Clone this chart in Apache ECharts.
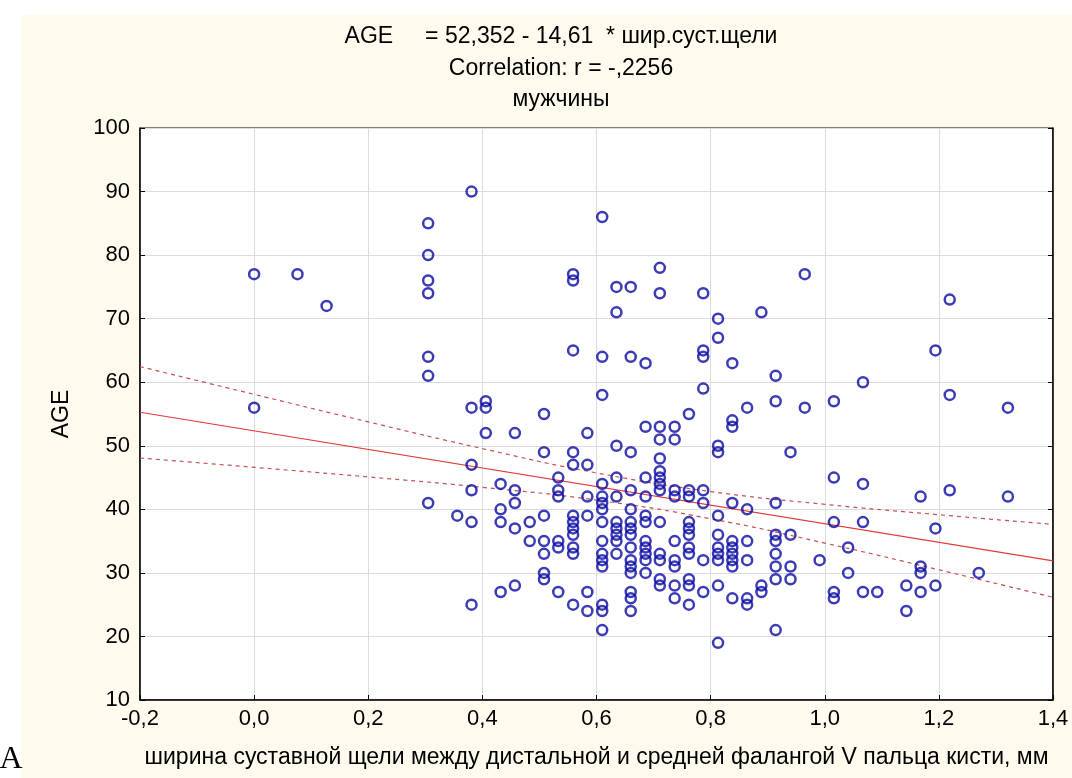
<!DOCTYPE html>
<html><head><meta charset="utf-8">
<script src="https://cdn.jsdelivr.net/npm/echarts@6/dist/echarts.min.js"></script>
<style>html,body{margin:0;padding:0;background:#fff;}#c{width:1072px;height:778px;}</style>
</head><body><div id="c"></div>
<script>
// Distinct joint-space widths (mm) and the ages observed at each width
const widthLevels = [0.000,0.076,0.127,0.305,0.356,0.381,0.406,0.432,0.457,0.483,0.508,0.533,0.559,0.584,0.610,0.635,0.660,0.686,0.711,0.737,0.762,0.787,0.813,0.838,0.864,0.889,0.914,0.940,0.965,0.991,1.016,1.041,1.067,1.092,1.143,1.168,1.194,1.219,1.270,1.321];
const agesAtWidth = [
 [77,56],[77],[72],[85,80,76,74,64,61,41],[39],[90,56,47,43,38,25],[57,56,52],[44,40,38,27],[52,43,41,37,28],[38,35],
 [55,49,39,35,33,30,29],[45,43,42,35,34,27],[77,76,65,49,47,39,38,37,36,34,33,25],[52,47,42,39,27,24],
 [86,64,58,44,42,41,40,38,35,33,32,31,25,24,21],[75,71,50,45,42,38,37,36,35,33],
 [75,64,49,43,40,38,37,36,34,32,31,30,27,26,24],[63,53,45,42,39,38,35,34,33,32,30],
 [78,74,53,51,48,46,45,44,43,38,33,32,29,28],[53,51,43,42,35,32,31,28,26],
 [55,43,42,38,37,36,34,33,29,28,25],[74,65,64,59,43,41,32,27],[70,67,50,49,39,36,34,33,32,28,19],
 [63,54,53,41,35,34,33,32,31,26],[56,40,35,32,26,25],[71,28,27],[61,57,41,36,35,33,31,29,21],
 [49,36,31,29],[77,56],[32],[57,45,38,27,26],[34,30],[60,44,38,27],[27],[28,24],[42,31,30,27],
 [65,37,28],[73,58,43],[30],[56,42]
];
// Regression (from chart title): AGE = 52.352 - 14.61 * width
const intercept = 52.352, slope = -14.61;
// 95% confidence band
const bandX     = [-0.2, 0.0, 0.2, 0.4, 0.6, 0.8, 1.0, 1.2, 1.4];
const bandUpper = [62.46,58.09,53.76,49.56,45.73,42.80,40.79,39.15,37.64];
const bandLower = [48.08,46.61,45.10,43.46,41.45,38.52,34.69,30.49,26.16];
const xTicks = [-0.2,1.4,0.2];
const yTicks = [10,100,10];
const titleLines = ['AGE     = 52,352 - 14,61  * шир.суст.щели','Correlation: r = -,2256','мужчины'];
const xName = 'ширина суставной щели между дистальной и средней фалангой V пальца кисти, мм';
const yName = 'AGE';

const pts = [];
widthLevels.forEach((w,i)=>agesAtWidth[i].forEach(a=>pts.push([w,a])));
const regData = [[xTicks[0], intercept+slope*xTicks[0]],[xTicks[1], intercept+slope*xTicks[1]]];
const up = bandX.map((x,i)=>[x,bandUpper[i]]);
const lo = bandX.map((x,i)=>[x,bandLower[i]]);

const FONT = '"Liberation Sans", Arial, sans-serif';
const chart = echarts.init(document.getElementById('c'), null, {renderer:'canvas'});
const G = {left:140, top:128, right:19, bottom:78};
chart.setOption({
  backgroundColor:'#ffffff',
  animation:false,
  textStyle:{fontFamily:FONT},
  graphic:[
    {type:'rect', z:-10, shape:{x:22,y:15,width:1050,height:763}, style:{fill:'#FEFBEE'}},
    {type:'text', x:561, y:37, style:{text:titleLines[0], font:'23px '+FONT, fill:'#000', align:'center', verticalAlign:'middle'}},
    {type:'text', x:561, y:69, style:{text:titleLines[1], font:'23px '+FONT, fill:'#000', align:'center', verticalAlign:'middle'}},
    {type:'text', x:561, y:100, style:{text:titleLines[2], font:'23px '+FONT, fill:'#000', align:'center', verticalAlign:'middle'}},
    {type:'text', x:62, y:414, rotation:Math.PI/2, style:{text:yName, font:'23px '+FONT, fill:'#000', align:'center', verticalAlign:'middle'}},
    {type:'text', x:11, y:760, style:{text:'A', font:'32px "Liberation Serif", "Times New Roman", serif', fill:'#000', align:'center', verticalAlign:'middle'}}
  ],
  grid:{left:G.left, top:G.top, right:G.right, bottom:G.bottom, show:true, backgroundColor:'#ffffff', borderColor:'#000', borderWidth:1},
  xAxis:{type:'value', min:xTicks[0], max:xTicks[1], interval:xTicks[2],
    name:xName, nameLocation:'middle', nameGap:46, nameTextStyle:{fontSize:23, color:'#000', fontFamily:FONT},
    axisLine:{show:true, onZero:false, lineStyle:{color:'#000', width:1.5}},
    axisTick:{show:true, inside:true, length:5, lineStyle:{color:'#000'}},
    axisLabel:{fontSize:22, color:'#000', margin:8, formatter:v=>v.toFixed(1).replace('.',',')},
    splitLine:{show:true, lineStyle:{color:'#dcdcdc', width:1}}},
  yAxis:[{type:'value', min:yTicks[0], max:yTicks[1], interval:yTicks[2],
    axisLine:{show:true, onZero:false, lineStyle:{color:'#000', width:1.5}},
    axisTick:{show:true, inside:true, length:5, lineStyle:{color:'#000'}},
    axisLabel:{fontSize:22, color:'#000', margin:10},
    splitLine:{show:true, lineStyle:{color:'#dcdcdc', width:1}}},
    {type:'value', position:'right', min:yTicks[0], max:yTicks[1], interval:yTicks[2],
    axisLine:{show:true, onZero:false, lineStyle:{color:'#000', width:1.5}},
    axisTick:{show:true, inside:true, length:5, lineStyle:{color:'#000'}},
    axisLabel:{show:false}, splitLine:{show:false}}],
  series:[
    {type:'line', data:up, smooth:true, symbol:'none', z:3, lineStyle:{color:'#C85050', width:1.2, type:[4,4]}},
    {type:'line', data:lo, smooth:true, symbol:'none', z:3, lineStyle:{color:'#C85050', width:1.2, type:[4,4]}},
    {type:'line', data:regData, symbol:'none', z:3, lineStyle:{color:'#E03A3A', width:1.2}},
    {type:'scatter', data:pts, symbol:'circle', symbolSize:10, z:4,
      itemStyle:{color:'rgba(0,0,0,0)', borderColor:'#0A0AA2', borderWidth:2.5}}
  ]
});
</script></body></html>
